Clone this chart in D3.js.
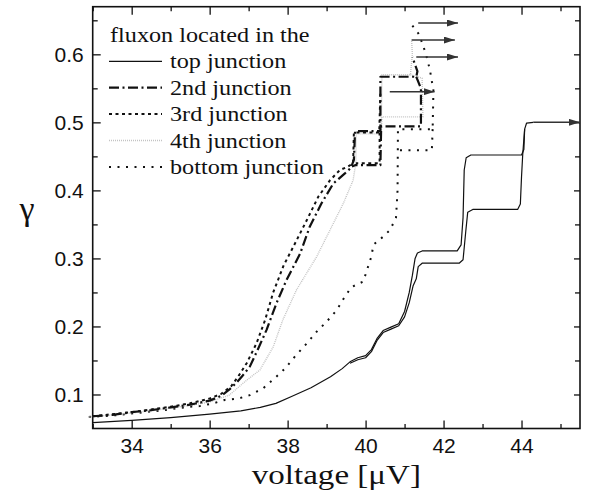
<!DOCTYPE html>
<html lang="en">
<head>
  <meta charset="UTF-8">
  <title>fluxon gamma-V curves</title>
  <script src="https://cdn.jsdelivr.net/npm/d3@7"></script>
  <style>
    body { margin: 0; background: #fff; }
    .serif { font-family: "Liberation Serif", "Times New Roman", serif; fill: #111; }
    .tick text { font-family: "Liberation Sans", Arial, sans-serif; font-size: 21px; fill: #111; }
    .domain { display: none; }
    .tick line { stroke: #111; stroke-width: 1.3; }
  </style>
</head>
<body>
  <div id="chart"></div>
  <script>
    const width = 590, height = 493;
    const margin = { top: 6.7, right: 10, bottom: 64.5, left: 92.7 };

    // tick values
    const xMajor = [34, 36, 38, 40, 42, 44];
    const xMinor = [33, 35, 37, 39, 41, 43, 45];
    const yMajor = [0.1, 0.2, 0.3, 0.4, 0.5, 0.6];
    const yMinor = [0.15, 0.25, 0.35, 0.45, 0.55, 0.65];

    // [voltage, gamma]
    const topUp = [[33.0,0.0585],[34,0.062],[35,0.066],[36,0.071],[36.8,0.076],[37.3,0.081],[37.7,0.087],
      [38.1,0.097],[38.6,0.11],[39.1,0.126],[39.4,0.138],[39.6,0.148],[39.8,0.154],[40.0,0.157],[40.15,0.166],
      [40.3,0.183],[40.45,0.194],[40.65,0.199],[40.85,0.204],[41.0,0.222],[41.12,0.25],[41.2,0.275],[41.27,0.3],
      [41.33,0.308],[41.45,0.311],[42.35,0.311],[42.45,0.32],[42.5,0.36],[42.53,0.43],[42.58,0.448],[42.7,0.452],
      [44.0,0.452],[44.06,0.46],[44.08,0.49],[44.13,0.499],[44.3,0.5]];
    const topDown = [[44.08,0.49],[44.03,0.452],[44.0,0.42],[43.97,0.38],[43.9,0.372],[42.75,0.372],[42.62,0.368],
      [42.57,0.34],[42.5,0.298],[42.4,0.293],[41.45,0.293],[41.35,0.288],[41.3,0.27],[41.22,0.26],[41.12,0.235],
      [41.0,0.214],[40.85,0.201],[40.65,0.196],[40.45,0.191],[40.3,0.18],[40.15,0.163],[40.0,0.154],[39.8,0.151],[39.6,0.146]];

    const secondUp = [[33.0,0.068],[33.5,0.07],[34,0.074],[34.5,0.077],[35,0.081],[35.5,0.085],[36,0.091],[36.3,0.098],
      [36.5,0.107],[36.7,0.118],[36.85,0.128],[37.03,0.141],[37.25,0.168],[37.46,0.195],[37.72,0.235],[37.97,0.268],
      [38.32,0.307],[38.57,0.347],[38.87,0.381],[39.17,0.41],[39.47,0.425],[39.62,0.433],[39.7,0.445],[39.73,0.487],
      [40.38,0.487],[40.38,0.567],[41.3,0.567],[41.33,0.575],[41.2,0.596]];
    const secondDown = [[41.3,0.567],[41.42,0.55],[41.42,0.494],[40.4,0.494],[40.38,0.437],[39.73,0.437],[39.65,0.435]];

    const thirdUp = [[33.0,0.068],[33.5,0.071],[34,0.074],[34.5,0.078],[35,0.082],[35.5,0.087],[36,0.094],[36.3,0.101],
      [36.55,0.112],[36.75,0.128],[36.95,0.146],[37.2,0.175],[37.42,0.209],[37.63,0.25],[37.9,0.29],[38.1,0.312],
      [38.49,0.356],[38.79,0.391],[39.09,0.415],[39.34,0.43],[39.55,0.435],[39.68,0.44],[39.7,0.485],[40.35,0.485],
      [40.38,0.545]];
    const thirdDown = [[40.36,0.485],[40.36,0.44],[39.75,0.44]];

    const fourthUp = [[32.9,0.067],[33.5,0.07],[34,0.073],[34.5,0.076],[35,0.08],[35.5,0.084],[36,0.089],[36.5,0.099],
      [36.95,0.121],[37.29,0.136],[37.63,0.17],[37.88,0.21],[38.23,0.254],[38.74,0.302],[39.09,0.342],[39.43,0.381],
      [39.68,0.415],[39.75,0.44],[39.76,0.483],[40.4,0.483],[40.42,0.57],[41.15,0.57],[41.2,0.6],[41.18,0.621]];
    const fourthDown = [[41.15,0.57],[41.45,0.565],[41.47,0.508],[40.42,0.508],[40.4,0.483]];

    const bottomUp = [[32.9,0.067],[33.5,0.069],[34,0.072],[34.5,0.075],[34.81,0.077],[35.2,0.08],[35.5,0.082],
      [35.75,0.083],[36.09,0.087],[36.39,0.092],[36.73,0.094],[37.03,0.099],[37.37,0.109],[37.67,0.124],[37.93,0.138],
      [38.19,0.156],[38.49,0.175],[38.74,0.192],[39.0,0.207],[39.26,0.224],[39.47,0.244],[39.64,0.258],[39.94,0.266],
      [40.15,0.303],[40.2,0.32],[40.45,0.332],[40.63,0.342],[40.78,0.36],[40.82,0.40],[40.83,0.49],[41.72,0.49],
      [41.74,0.547],[41.65,0.577],[41.55,0.6],[41.45,0.617],[41.35,0.631],[41.15,0.646]];
    const bottomDown = [[41.72,0.49],[41.7,0.459],[40.83,0.459]];

    // arrows: [from V, to V, gamma]
    const arrows = [[41.35,42.37,0.646],[41.18,42.29,0.621],[41.3,42.37,0.596],[40.62,41.77,0.545],[44.3,45.5,0.5]];

    const legendTitle = "fluxon located in the";
    const legendLabels = ["top junction", "2nd junction", "3rd junction", "4th junction", "bottom junction"];

    const styles = [
      { stroke: "#111", width: 1.2, dash: null },
      { stroke: "#111", width: 2.2, dash: "10,3.5,2,3.5" },
      { stroke: "#111", width: 2, dash: "3,3.5" },
      { stroke: "#c4c4c4", width: 1.4, dash: "1,1" },
      { stroke: "#111", width: 2, dash: "2,6.5" }
    ];
    const series = [[topUp, topDown], [secondUp, secondDown], [thirdUp, thirdDown], [fourthUp, fourthDown], [bottomUp, bottomDown]];

    const x = d3.scaleLinear().domain([33, 45.5]).range([margin.left, width - margin.right]);
    const y = d3.scaleLinear().domain([0.05, 0.67]).range([height - margin.bottom, margin.top]);

    const svg = d3.select('#chart').append('svg')
      .attr('width', width)
      .attr('height', height);

    svg.append('defs').append('marker')
      .attr('id', 'head')
      .attr('markerUnits', 'userSpaceOnUse')
      .attr('markerWidth', 11).attr('markerHeight', 7)
      .attr('refX', 11).attr('refY', 3.5)
      .attr('orient', 'auto')
      .append('path').attr('d', 'M0,0L11,3.5L0,7Z').attr('fill', '#333');

    // the source figure is a bit wider than tall, stretch serif texts to match
    const stretch = (sel, k) => sel.each(function () {
      const w = this.getComputedTextLength();
      d3.select(this).attr('textLength', w * k).attr('lengthAdjust', 'spacingAndGlyphs');
    });

    // axes, ticks pointing inward
    const x0 = margin.left, x1 = width - margin.right, y0 = margin.top, y1 = height - margin.bottom;
    svg.append('g').attr('transform', `translate(0,${y1})`)
      .call(d3.axisBottom(x).tickValues(xMajor).tickSize(-8).tickPadding(10).tickFormat(d3.format('d')));
    svg.append('g').attr('transform', `translate(0,${y1})`)
      .call(d3.axisBottom(x).tickValues(xMinor).tickSize(-4.5).tickFormat(''));
    svg.append('g').attr('transform', `translate(0,${y0})`)
      .call(d3.axisTop(x).tickValues(xMajor).tickSize(-8).tickFormat(''));
    svg.append('g').attr('transform', `translate(0,${y0})`)
      .call(d3.axisTop(x).tickValues(xMinor).tickSize(-4.5).tickFormat(''));
    svg.append('g').attr('transform', `translate(${x0},0)`)
      .call(d3.axisLeft(y).tickValues(yMajor).tickSize(-8).tickPadding(9).tickFormat(d3.format('.1f')));
    svg.append('g').attr('transform', `translate(${x0},0)`)
      .call(d3.axisLeft(y).tickValues(yMinor).tickSize(-5).tickFormat(''));
    svg.append('g').attr('transform', `translate(${x1},0)`)
      .call(d3.axisRight(y).tickValues(yMajor).tickSize(-6).tickFormat(''));
    svg.append('g').attr('transform', `translate(${x1},0)`)
      .call(d3.axisRight(y).tickValues(yMinor).tickSize(-5).tickFormat(''));

    svg.append('rect')
      .attr('x', x0).attr('y', y0).attr('width', x1 - x0).attr('height', y1 - y0)
      .attr('fill', 'none').attr('stroke', '#111').attr('stroke-width', 1.6);

    const poly = d3.line().x(d => x(d[0])).y(d => y(d[1]));

    // draw in reverse so the top junction lies above
    series.map((s, i) => [s, i]).reverse().forEach(([branches, i]) => {
      const st = styles[i];
      branches.forEach(pts => {
        svg.append('path')
          .attr('d', poly(pts))
          .attr('fill', 'none')
          .attr('stroke', st.stroke)
          .attr('stroke-width', st.width)
          .attr('stroke-dasharray', st.dash)
          .attr('stroke-linejoin', 'round');
      });
    });

    svg.selectAll('.arrow').data(arrows).join('line')
      .attr('class', 'arrow')
      .attr('x1', d => x(d[0])).attr('x2', d => x(d[1]))
      .attr('y1', d => y(d[2])).attr('y2', d => y(d[2]))
      .attr('stroke', '#333').attr('stroke-width', 1.5)
      .attr('marker-end', 'url(#head)');

    // legend
    const leg = svg.append('g');
    leg.append('text').attr('class', 'serif')
      .attr('x', 110).attr('y', 41.7).attr('font-size', 22)
      .text(legendTitle).call(stretch, 1.1);
    legendLabels.forEach((lab, i) => {
      const by = 68.3 + i * 26.4;
      const st = styles[i];
      leg.append('line')
        .attr('x1', 109).attr('x2', 162).attr('y1', by - 7).attr('y2', by - 7)
        .attr('stroke', st.stroke).attr('stroke-width', st.width)
        .attr('stroke-dasharray', st.dash);
      leg.append('text').attr('class', 'serif')
        .attr('x', 170).attr('y', by).attr('font-size', 22)
        .text(lab).call(stretch, 1.1);
    });

    // axis titles
    svg.append('text').attr('class', 'serif')
      .attr('x', (x0 + x1) / 2).attr('y', 484)
      .attr('text-anchor', 'middle').attr('font-size', 28)
      .text('voltage [\u03BCV]').call(stretch, 1.18);
    svg.append('text').attr('class', 'serif')
      .attr('x', 27).attr('y', 220)
      .attr('text-anchor', 'middle').attr('font-size', 34)
      .text('\u03B3');
  </script>
</body>
</html>
